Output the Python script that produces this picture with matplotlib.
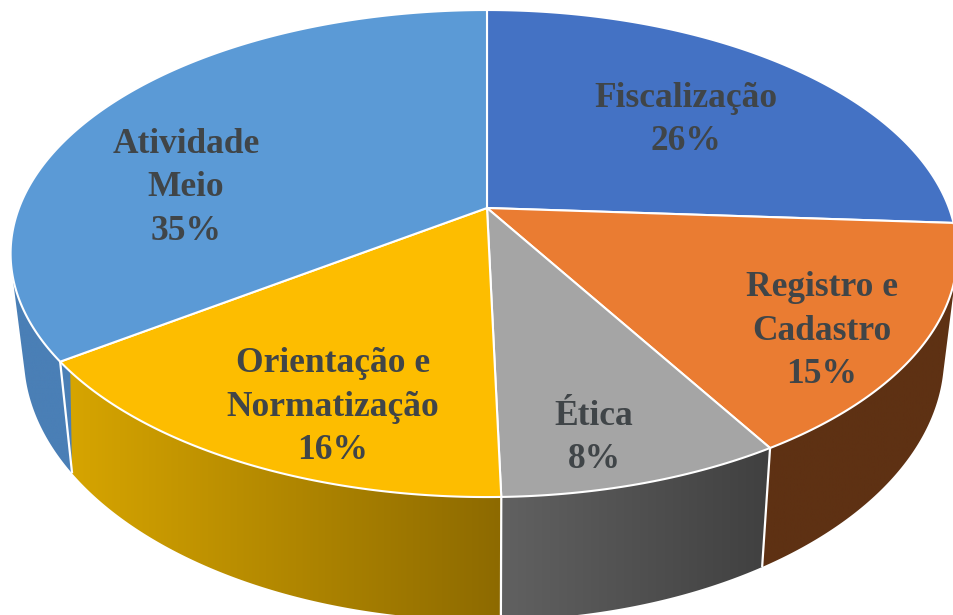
import numpy as np
import matplotlib
matplotlib.use("Agg")
import matplotlib.pyplot as plt
from matplotlib.colors import to_rgb
from matplotlib.patches import Polygon

# Data
categories = ["Fiscalização", "Registro e\nCadastro", "Ética", "Orientação e\nNormatização", "Atividade\nMeio"]
values = [26.0, 15.4, 8.2, 15.5, 34.9]

# Styles
top_colors = ["#4472c4", "#ea7c32", "#a5a5a5", "#fdbd00", "#5b9ad6"]
wall_right = ["#2f5597", "#5e3113", "#404040", "#8d6a00", "#4a7fb6"]
wall_left = ["#2f5597", "#5e3113", "#616161", "#d8a600", "#4a7fb6"]
text_color = "#404548"
label_xy = [(686, 120), (822, 331), (594, 438), (333, 407), (186, 188)]

# Projection of the pie disc into figure pixels
CX, CY, A_R, A_L, B, K = 487.0, 208.0, 462.0, 468.0, 235.0, 0.187
SX, SY, DROP = 0.972, 1.085, 98.6


def top(theta):
    u, v = np.sin(theta), np.cos(theta)
    w = 1 + K * v
    return CX + np.where(u >= 0, A_R, A_L) * u / w, CY - B * v / w


def bottom(theta):
    x, y = top(theta)
    return CX + SX * (x - CX), CY + DROP + SY * (y - CY)


def convex_hull(points):
    pts = sorted(set(map(tuple, points)))

    def half(seq):
        out = []
        for p in seq:
            while len(out) >= 2 and ((out[-1][0] - out[-2][0]) * (p[1] - out[-2][1])
                                     - (out[-1][1] - out[-2][1]) * (p[0] - out[-2][0])) <= 0:
                out.pop()
            out.append(p)
        return out[:-1]

    return np.array(half(pts) + half(pts[::-1]))


fig = plt.figure(figsize=(9.54, 6.15), dpi=100, facecolor="white")
ax = fig.add_axes([0, 0, 1, 1])

edges = 2 * np.pi * np.concatenate([[0], np.cumsum(values)]) / sum(values)
VIS0, VIS1 = edges[1] + 0.001, np.radians(285)

# Side walls: horizontal gradient clipped to each slice's wall
for i in range(len(values)):
    a0, a1 = max(edges[i], VIS0), min(edges[i + 1], VIS1)
    if a1 <= a0:
        continue
    ts = np.linspace(a0, a1, 200)
    tx, ty = top(ts)
    bx, by = bottom(ts)
    hull = convex_hull(np.column_stack([np.r_[tx, bx], np.r_[ty, by]]))
    left, right = np.array(to_rgb(wall_left[i])), np.array(to_rgb(wall_right[i]))
    grad = np.linspace(0, 1, 256)[None, :, None]
    img = left + (right - left) * grad
    im = ax.imshow(img, extent=[hull[:, 0].min(), hull[:, 0].max(), hull[:, 1].max(), hull[:, 1].min()],
                   aspect="auto", interpolation="bilinear", zorder=2)
    clip = Polygon(hull, closed=True, transform=ax.transData)
    im.set_clip_path(clip)

# White seams on the walls
for e in edges[1:-1]:
    if VIS0 < e < VIS1:
        p, q = top(e), bottom(e)
        ax.plot([p[0], q[0]], [p[1], q[1]], color="white", lw=1.6, zorder=3,
                solid_capstyle="butt")

# Top surface
for i in range(len(values)):
    ts = np.linspace(edges[i], edges[i + 1], 160)
    x, y = top(ts)
    pts = np.vstack([[CX, CY], np.column_stack([x, y])])
    ax.add_patch(Polygon(pts, closed=True, facecolor=top_colors[i],
                         edgecolor="white", linewidth=1.5, joinstyle="round", zorder=4))

# Labels
for name, val, (lx, ly) in zip(categories, values, label_xy):
    ax.text(lx, ly, f"{name}\n{round(val)}%", ha="center", va="center",
            family="Liberation Serif", fontweight="bold", fontsize=25.5,
            color=text_color, linespacing=1.43, zorder=5)

ax.set_xlim(0, 954)
ax.set_ylim(615, 0)
ax.axis("off")
fig.savefig("out.png", dpi=100, facecolor="white")
